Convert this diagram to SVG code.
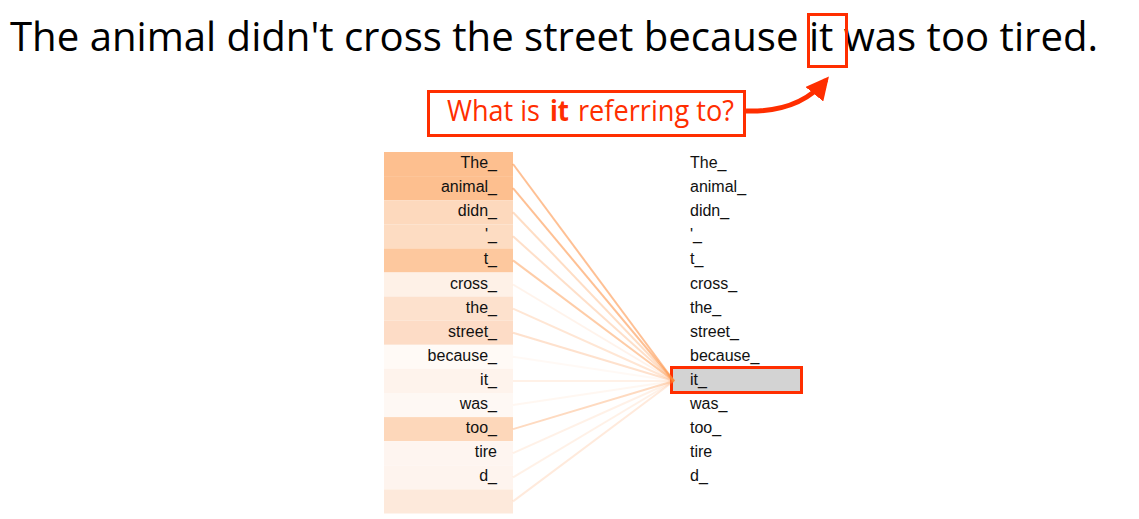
<svg xmlns="http://www.w3.org/2000/svg" width="1139" height="519" viewBox="0 0 1139 519">
<style>
.title{font-family:"Open Sans","Noto Sans",sans-serif;font-size:40px;fill:#000}
.q{font-family:"Open Sans","Noto Sans",sans-serif;font-size:29px;fill:#FF2E00}
.tok{font-family:"Liberation Sans",Arial,sans-serif;font-size:16px;fill:#111}
.l{text-anchor:end}
.red{fill:none;stroke:#FF2E00}
.att{stroke:#FD8D3C;stroke-width:2;fill:none}
</style>
<defs>
<marker id="ah" viewBox="0 0 10 10" refX="8" refY="5" markerWidth="4.6" markerHeight="4.6" orient="auto" markerUnits="strokeWidth">
<path d="M0,0 L10,5 L0,10 Z" fill="#FF2E00"/>
</marker>
</defs>
<rect width="1139" height="519" fill="#fff"/>
<g id="title">
<text class="title" x="10" y="51" textLength="1088" lengthAdjust="spacingAndGlyphs">The animal didn't cross the street because it was too tired.</text>
<rect class="red" x="808.5" y="14.5" width="38" height="52" stroke-width="3"/>
</g>
<g id="question">
<rect class="red" x="428.5" y="91.5" width="316" height="44" stroke-width="3"/>
<text class="q" x="447" y="121" textLength="93" lengthAdjust="spacingAndGlyphs">What is</text>
<text class="q" x="550" y="121" font-weight="bold" textLength="19" lengthAdjust="spacingAndGlyphs">it</text>
<text class="q" x="578" y="121" textLength="156" lengthAdjust="spacingAndGlyphs">referring to?</text>
</g>
<g id="left-column">
<rect x="384" y="152" width="129" height="24.1" fill="#FDBF8F"/>
<rect x="384" y="176.1" width="129" height="24.1" fill="#FDBF8F"/>
<rect x="384" y="200.2" width="129" height="24.1" fill="#FDD9BD"/>
<rect x="384" y="224.3" width="129" height="24.1" fill="#FDDCC2"/>
<rect x="384" y="248.4" width="129" height="24.1" fill="#FDC89E"/>
<rect x="384" y="272.5" width="129" height="24.1" fill="#FEF1E7"/>
<rect x="384" y="296.6" width="129" height="24.1" fill="#FDE1CD"/>
<rect x="384" y="320.7" width="129" height="24.1" fill="#FDDCC6"/>
<rect x="384" y="344.8" width="129" height="24.1" fill="#FFFAF6"/>
<rect x="384" y="368.9" width="129" height="24.1" fill="#FEF3EC"/>
<rect x="384" y="393" width="129" height="24.1" fill="#FEF8F4"/>
<rect x="384" y="417.1" width="129" height="24.1" fill="#FDD7BA"/>
<rect x="384" y="441.2" width="129" height="24.1" fill="#FEF5F0"/>
<rect x="384" y="465.3" width="129" height="24.1" fill="#FEF4EE"/>
<rect x="384" y="489.4" width="129" height="24.1" fill="#FDE9DB"/>
<text class="tok l" x="497" y="168">The_</text>
<text class="tok l" x="497" y="192.1">animal_</text>
<text class="tok l" x="497" y="216.2">didn_</text>
<text class="tok l" x="497" y="240.3">'_</text>
<text class="tok l" x="497" y="264.4">t_</text>
<text class="tok l" x="497" y="288.5">cross_</text>
<text class="tok l" x="497" y="312.6">the_</text>
<text class="tok l" x="497" y="336.7">street_</text>
<text class="tok l" x="497" y="360.8">because_</text>
<text class="tok l" x="497" y="384.9">it_</text>
<text class="tok l" x="497" y="409">was_</text>
<text class="tok l" x="497" y="433.1">too_</text>
<text class="tok l" x="497" y="457.2">tire</text>
<text class="tok l" x="497" y="481.3">d_</text>
</g>
<g id="right-column">
<rect x="673" y="369" width="127" height="22" fill="#D3D3D3"/>
<rect class="red" x="671.5" y="367.5" width="130" height="25" stroke-width="3"/>
<text class="tok" x="690" y="168">The_</text>
<text class="tok" x="690" y="192.1">animal_</text>
<text class="tok" x="690" y="216.2">didn_</text>
<text class="tok" x="690" y="240.3">'_</text>
<text class="tok" x="690" y="264.4">t_</text>
<text class="tok" x="690" y="288.5">cross_</text>
<text class="tok" x="690" y="312.6">the_</text>
<text class="tok" x="690" y="336.7">street_</text>
<text class="tok" x="690" y="360.8">because_</text>
<text class="tok" x="690" y="384.9">it_</text>
<text class="tok" x="690" y="409">was_</text>
<text class="tok" x="690" y="433.1">too_</text>
<text class="tok" x="690" y="457.2">tire</text>
<text class="tok" x="690" y="481.3">d_</text>
</g>
<g id="connectors">
<line class="att" x1="513" y1="164" x2="674" y2="381" stroke-opacity="0.55"/>
<line class="att" x1="513" y1="188.1" x2="674" y2="381" stroke-opacity="0.55"/>
<line class="att" x1="513" y1="212.2" x2="674" y2="381" stroke-opacity="0.3"/>
<line class="att" x1="513" y1="236.3" x2="674" y2="381" stroke-opacity="0.28"/>
<line class="att" x1="513" y1="260.4" x2="674" y2="381" stroke-opacity="0.45"/>
<line class="att" x1="513" y1="284.5" x2="674" y2="381" stroke-opacity="0.1"/>
<line class="att" x1="513" y1="308.6" x2="674" y2="381" stroke-opacity="0.22"/>
<line class="att" x1="513" y1="332.7" x2="674" y2="381" stroke-opacity="0.26"/>
<line class="att" x1="513" y1="356.8" x2="674" y2="381" stroke-opacity="0.05"/>
<line class="att" x1="513" y1="380.9" x2="674" y2="381" stroke-opacity="0.12"/>
<line class="att" x1="513" y1="405" x2="674" y2="381" stroke-opacity="0.07"/>
<line class="att" x1="513" y1="429.1" x2="674" y2="381" stroke-opacity="0.32"/>
<line class="att" x1="513" y1="453.2" x2="674" y2="381" stroke-opacity="0.12"/>
<line class="att" x1="513" y1="477.3" x2="674" y2="381" stroke-opacity="0.12"/>
<line class="att" x1="513" y1="501.4" x2="674" y2="381" stroke-opacity="0.18"/>
<path class="red" d="M746,111 C780,112 808,102 826,80" stroke-width="5" marker-end="url(#ah)"/>
</g>
</svg>
